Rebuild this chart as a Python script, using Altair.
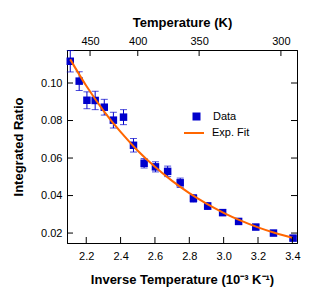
import altair as alt
import pandas as pd

# Data
inv_T = [2.107, 2.159, 2.204, 2.252, 2.305, 2.358, 2.417, 2.475, 2.537, 2.603,
         2.674, 2.747, 2.824, 2.907, 2.994, 3.087, 3.187, 3.290, 3.404]
ratio = [0.1116, 0.1010, 0.0908, 0.0907, 0.0871, 0.0802, 0.0818, 0.0668, 0.0572, 0.0553,
         0.0529, 0.0468, 0.0385, 0.0344, 0.0309, 0.0262, 0.0232, 0.0200, 0.0173]
err = [0.0057, 0.0050, 0.0045, 0.0049, 0.0042, 0.0042, 0.0040, 0.0036, 0.0025, 0.0027,
       0.0028, 0.0025, 0.0020, 0.0018, 0.0016, 0.0014, 0.0012, 0.0011, 0.0010]

fit_x = [2.107, 2.2, 2.3, 2.4, 2.5, 2.6, 2.7, 2.8, 2.9, 3.0, 3.1, 3.2, 3.3, 3.4]
fit_y = [0.1126, 0.0985, 0.0853, 0.0739, 0.0639, 0.0553, 0.0478, 0.0413, 0.0357,
         0.0308, 0.0266, 0.0230, 0.0200, 0.0175]

x_ticks = [2.2, 2.4, 2.6, 2.8, 3.0, 3.2, 3.4]
y_ticks = [0.02, 0.04, 0.06, 0.08, 0.10]
temp_ticks = [450, 400, 350, 300]

BLUE = "#0000cc"
ORANGE = "#ff6600"
FONT = "Liberation Sans"
W, H, TK = 230, 193, 6

df = pd.DataFrame({"x": inv_T, "y": ratio, "e": err, "series": "Data"})
fit = pd.DataFrame({"x": fit_x, "y": fit_y, "series": "Exp. Fit"})
xt = pd.DataFrame({"v": x_ticks})
yt = pd.DataFrame({"v": y_ticks})
tt = pd.DataFrame({"v": [1000.0 / t for t in temp_ticks]})

xscale = alt.Scale(domain=[2.088, 3.427], nice=False, zero=False)
yscale = alt.Scale(domain=[0.0147, 0.1176], nice=False, zero=False)

common = dict(grid=False, ticks=False, tickSize=0, domainColor="black",
              labelFont=FONT, labelFontSize=11, labelColor="black",
              titleFont=FONT, titleFontSize=13, titleFontWeight="bold", titleColor="black")

bottom_axis = alt.Axis(orient="bottom", values=x_ticks, format=".1f", labelPadding=7,
                       title="Inverse Temperature (10⁻³ K⁻¹)", titlePadding=12, **common)
left_axis = alt.Axis(orient="left", values=y_ticks, format=".2f", labelPadding=5,
                     title="Integrated Ratio", titlePadding=15, **common)
top_axis = alt.Axis(orient="top", values=[1000.0 / t for t in temp_ticks],
                    labelExpr="format(1000/datum.value, '.0f')", labelPadding=4,
                    title="Temperature (K)", titlePadding=6, **common)
right_axis = alt.Axis(orient="right", values=y_ticks, labels=False, title=None, **common)

base = alt.Chart(df).transform_calculate(lo="datum.y - datum.e", hi="datum.y + datum.e")

bars = base.mark_rule(color=BLUE, strokeWidth=1).encode(
    x=alt.X("x:Q", scale=xscale, axis=None),
    y=alt.Y("lo:Q", scale=yscale, axis=None),
    y2="hi:Q",
)
cap_lo = base.mark_tick(color=BLUE, orient="horizontal", size=7, thickness=1).encode(
    x=alt.X("x:Q", axis=None), y=alt.Y("lo:Q", axis=None)
)
cap_hi = base.mark_tick(color=BLUE, orient="horizontal", size=7, thickness=1).encode(
    x=alt.X("x:Q", axis=None), y=alt.Y("hi:Q", axis=None)
)

points = base.mark_point(filled=True, size=56, opacity=1, shape="square").encode(
    x=alt.X("x:Q", axis=bottom_axis),
    y=alt.Y("y:Q", axis=left_axis),
    color=alt.Color("series:N", scale=alt.Scale(domain=["Data"], range=[BLUE]),
                    legend=alt.Legend(title=None, orient="none", legendX=124, legendY=61,
                                      symbolType="square", symbolSize=64, labelOffset=11,
                                      labelFont=FONT, labelFontSize=11, labelColor="black")),
)

line = alt.Chart(fit).mark_line(strokeWidth=2, interpolate="monotone").encode(
    x=alt.X("x:Q", axis=top_axis),
    y=alt.Y("y:Q", axis=right_axis),
    stroke=alt.Stroke("series:N", scale=alt.Scale(domain=["Exp. Fit"], range=[ORANGE]),
                      legend=alt.Legend(title=None, orient="none", legendX=116, legendY=72,
                                        symbolType="stroke", symbolSize=400,
                                        symbolStrokeWidth=2, labelOffset=7,
                                        labelFont=FONT, labelFontSize=11, labelColor="black")),
)

tick_bottom = alt.Chart(xt).mark_rule(color="black").encode(
    x=alt.X("v:Q", axis=None), y=alt.value(H), y2=alt.value(H - TK))
tick_top = alt.Chart(tt).mark_rule(color="black").encode(
    x=alt.X("v:Q", axis=None), y=alt.value(0), y2=alt.value(TK))
tick_left = alt.Chart(yt).mark_rule(color="black").encode(
    y=alt.Y("v:Q", axis=None), x=alt.value(0), x2=alt.value(TK))
tick_right = alt.Chart(yt).mark_rule(color="black").encode(
    y=alt.Y("v:Q", axis=None), x=alt.value(W), x2=alt.value(W - TK))

chart = alt.layer(
    bars, cap_lo, cap_hi, points, line, tick_bottom, tick_top, tick_left, tick_right
).resolve_axis(x="independent", y="independent").properties(
    width=W, height=H,
    autosize=alt.AutoSizeParams(type="none"),
    padding={"left": 59, "top": 42, "right": 16, "bottom": 46},
    background="white",
).configure_view(stroke="black", strokeWidth=1)

chart.save("out.html", embed_options={"renderer": "svg", "actions": False})
